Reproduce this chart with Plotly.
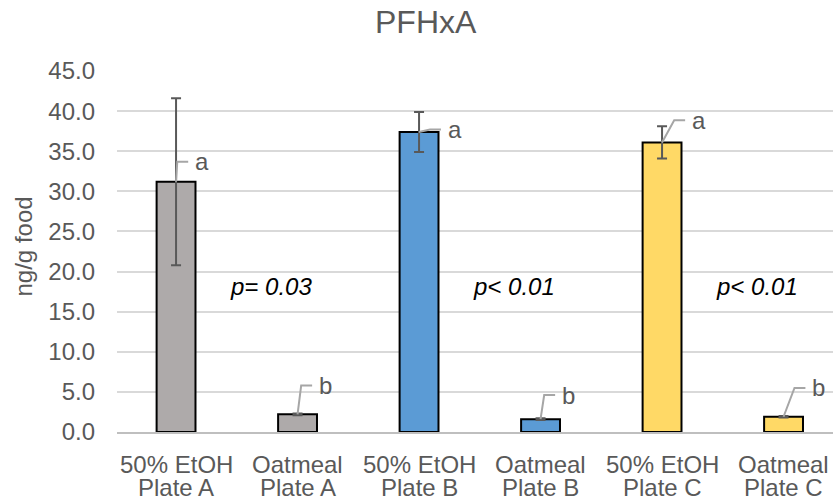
import plotly.graph_objects as go

cat_line1 = ["50% EtOH", "Oatmeal", "50% EtOH", "Oatmeal", "50% EtOH", "Oatmeal"]
cat_line2 = ["Plate A", "Plate A", "Plate B", "Plate B", "Plate C", "Plate C"]
values = [31.2, 2.2, 37.4, 1.6, 36.1, 1.9]
errors = [10.4, 0.1, 2.5, 0.1, 2.0, 0.1]
colors = ["#aeaaaa", "#aeaaaa", "#5b9bd5", "#5b9bd5", "#ffd966", "#ffd966"]
letters = ["a", "b", "a", "b", "a", "b"]
pvals = ["p= 0.03", "p< 0.01", "p< 0.01"]
y_ticks = [0, 5, 10, 15, 20, 25, 30, 35, 40, 45]

FONT = "Liberation Sans, Arial"
GREY = "#595959"
xs = list(range(len(cat_line1)))

fig = go.Figure()
fig.add_trace(go.Bar(
    x=xs, y=values, width=0.32,
    marker=dict(color=colors, line=dict(color="black", width=2)),
    error_y=dict(type="data", array=errors, visible=True, color=GREY,
                 thickness=2, width=5),
))

# leader lines and letter labels
offsets = [(0.01, 2.5), (0.03, 3.6), (0.09, 0.3), (0.03, 3.0), (0.10, 2.75), (0.09, 3.6)]
for i, (v, l) in enumerate(zip(values, letters)):
    dx, dy = offsets[i]
    fig.add_shape(type="path",
                  path=f"M {i} {v} L {i+dx} {v+dy} L {i+dx+0.09} {v+dy}",
                  line=dict(color="#a6a6a6", width=2), xref="x", yref="y")
    fig.add_annotation(x=i + dx + 0.13, y=v + dy, text=l, showarrow=False,
                       xanchor="left", yanchor="middle",
                       font=dict(family=FONT, size=24, color=GREY))

for k, p in enumerate(pvals):
    fig.add_annotation(x=2 * k + 0.78, y=18.1, text=f"<i>{p}</i>", showarrow=False,
                       font=dict(family=FONT, size=24, color="black"))

# two-line category labels (tight line spacing)
for i in xs:
    fig.add_annotation(x=i, y=0, yref="paper", yshift=-32, text=cat_line1[i],
                       showarrow=False, yanchor="middle",
                       font=dict(family=FONT, size=24, color=GREY))
    fig.add_annotation(x=i, y=0, yref="paper", yshift=-55, text=cat_line2[i],
                       showarrow=False, yanchor="middle",
                       font=dict(family=FONT, size=24, color=GREY))

# y axis title
fig.add_annotation(x=0, xref="paper", xshift=-94, xanchor="center",
                   y=0.5, yref="paper", yshift=5, yanchor="middle",
                   text="ng/g food", textangle=-90, showarrow=False,
                   font=dict(family=FONT, size=24, color=GREY))

fig.update_layout(
    width=833, height=503,
    margin=dict(l=117, r=0, t=71, b=71),
    paper_bgcolor="white", plot_bgcolor="white",
    showlegend=False,
    title=dict(text="PFHxA", x=0.511, xanchor="center", y=0.957, yanchor="middle",
               font=dict(family=FONT, size=32, color=GREY)),
    font=dict(family=FONT, color=GREY),
    xaxis=dict(tickvals=xs, showticklabels=False, range=[-0.486, 5.407],
               showgrid=False, showline=True, linecolor="#bfbfbf", linewidth=1.5,
               ticks=""),
    yaxis=dict(range=[0, 45], tickvals=y_ticks, tickformat=".1f",
               showgrid=True, gridcolor="#d9d9d9", gridwidth=1.5, zeroline=False,
               tickfont=dict(size=24, color=GREY), ticklabelstandoff=21),
)
fig.write_html("out.html", config={"displayModeBar": False},
               post_script="document.body.style.margin='0';document.body.style.overflow='hidden';")
